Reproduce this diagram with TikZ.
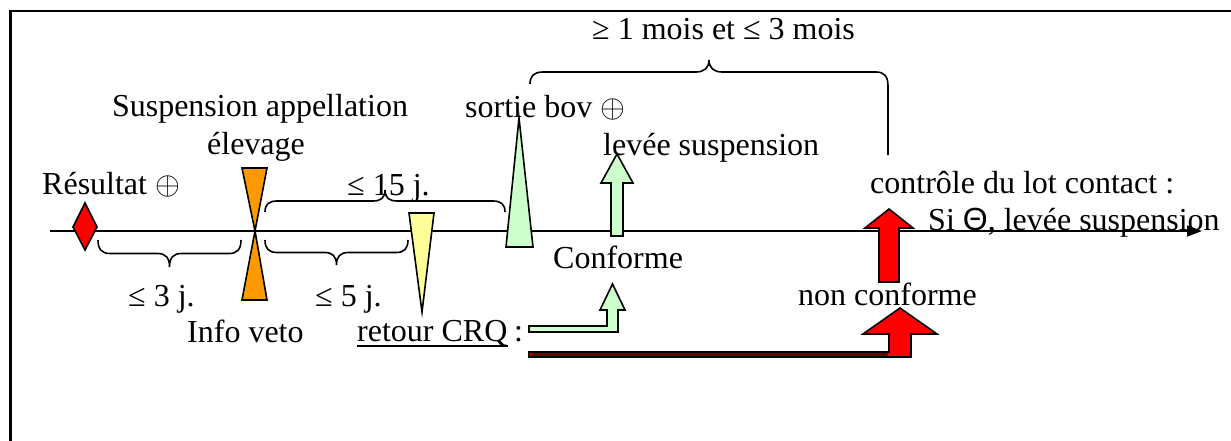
\RequirePackage{fix-cm}
\documentclass[tikz,border=0pt]{standalone}
\usepackage{fontspec}
\setmainfont{Liberation Serif}
\newfontfamily\sansf{Liberation Sans}
\usetikzlibrary{arrows.meta}
\newcommand{\opl}{\ensuremath{\oplus}}
\newcommand{\hbr}[4]{%
  \pgfmathsetmacro\brmid{(#1+#2)/2}%
  \draw[brc] (#1,#3) .. controls (#1,#3+0.35*#4) and (#1+4,#3+0.5*#4) .. (#1+12,#3+0.5*#4)
    -- (\brmid-12,#3+0.5*#4) .. controls (\brmid-4,#3+0.5*#4) and (\brmid,#3+0.65*#4) .. (\brmid,#3+#4)
    .. controls (\brmid,#3+0.65*#4) and (\brmid+4,#3+0.5*#4) .. (\brmid+12,#3+0.5*#4)
    -- (#2-12,#3+0.5*#4) .. controls (#2-4,#3+0.5*#4) and (#2,#3+0.35*#4) .. (#2,#3);}
\definecolor{cred}{RGB}{255,0,0}
\definecolor{cdark}{RGB}{110,0,0}
\definecolor{corange}{RGB}{255,153,0}
\definecolor{cyellow}{RGB}{255,255,153}
\definecolor{cgreen}{RGB}{204,255,204}
\begin{document}
\begin{tikzpicture}[x=1pt,y=-1pt,
  font=\fontsize{32}{37}\selectfont,
  lbl/.style={anchor=base west,inner sep=0pt},
  lblc/.style={anchor=base,inner sep=0pt},
  brc/.style={line width=1.6pt},
  shp/.style={draw=black,line width=1.6pt,line join=miter},
  axis/.style={line width=1.6pt,-{Triangle[length=15pt,width=11pt]}}]
\useasboundingbox (0,0) rectangle (1231,441);
% frame
\draw[line width=2.5pt] (10.5,441) -- (10.5,11) -- (1231,11);
% timeline
\coordinate (t0) at (50,231);
\coordinate (t1) at (1202,231);
\draw[axis] (t0) -- (t1);
% marks
\draw[shp,fill=cred] (85,203) -- (97,227) -- (85,250) -- (73,227) -- cycle;
\draw[shp,fill=corange] (242,168) -- (267,168) -- (255,231) -- cycle;
\draw[shp,fill=corange] (255,231) -- (267,300) -- (242,300) -- cycle;
\draw[shp,fill=cyellow] (409,213) -- (434,213) -- (422,312) -- cycle;
\draw[shp,fill=cgreen] (519,118) -- (533,247) -- (506,247) -- cycle;
% block arrows
\draw[shp,fill=cgreen] (611,236) -- (611,183) -- (601,183) -- (617,154) -- (633,183) -- (623,183) -- (623,236) -- cycle;
\draw[shp,fill=cred] (879,282) -- (879,228) -- (865,228) -- (889,209) -- (913,228) -- (899,228) -- (899,282) -- cycle;
\draw[shp,fill=cgreen] (529,326) -- (607,326) -- (607,310) -- (600,310) -- (612.5,284) -- (625,310) -- (618,310) -- (618,332) -- (529,332) -- cycle;
\draw[shp,fill=cred] (529,352) -- (889,352) -- (889,334) -- (863,334) -- (900,308) -- (937,334) -- (911,334) -- (911,357) -- (529,357) -- cycle;
\fill[cdark] (530.5,353.4) rectangle (888,355.6);
% braces
\hbr{98}{241}{240}{27}
\hbr{265}{408}{240}{25}
\hbr{265}{505}{212}{-22}
\draw[brc] (530,84) .. controls (530,76) and (534,72) .. (543,72) -- (696,72)
  .. controls (704,72) and (709,68) .. (709,60) .. controls (709,68) and (714,72) .. (722,72)
  -- (876,72) .. controls (884,72) and (888,76) .. (888,86) -- (888,155);
% texts
\node[lbl] (res) at (42,194) {Résultat \opl};
\node[lblc] (susp1) at (260,117) {Suspension appellation};
\node[lblc] (susp2) at (256,154) {élevage};
\node[lbl] (d3) at (128,306) {≤ 3 j.};
\node[lbl] (d5) at (315,306) {≤ 5 j.};
\node[lbl] (d15) at (347,195) {≤ 15 j.};
\node[lbl] (veto) at (187,342) {Info veto};
\node[lbl] (crq) at (357,341) {retour CRQ};
\node[lbl] (colon) at (514,341) {:};
\draw[line width=1.8pt] ([yshift=-5pt]crq.base west) -- ([yshift=-5pt]crq.base east);
\node[lbl] (sortie) at (465,118) {sortie bov \opl};
\node[lbl] (levee) at (603,155) {levée suspension};
\node[lbl] (conf) at (553,268) {Conforme};
\node[lbl] (nconf) at (798,305) {non conforme};
\node[lbl] (ctrl) at (870,193) {contrôle du lot contact :};
\node[lbl] (si) at (928,230) {Si {\sansf Θ}, levée suspension};
\node[lbl] (mois) at (592,40) {≥ 1 mois et ≤ 3 mois};
\end{tikzpicture}
\end{document}
